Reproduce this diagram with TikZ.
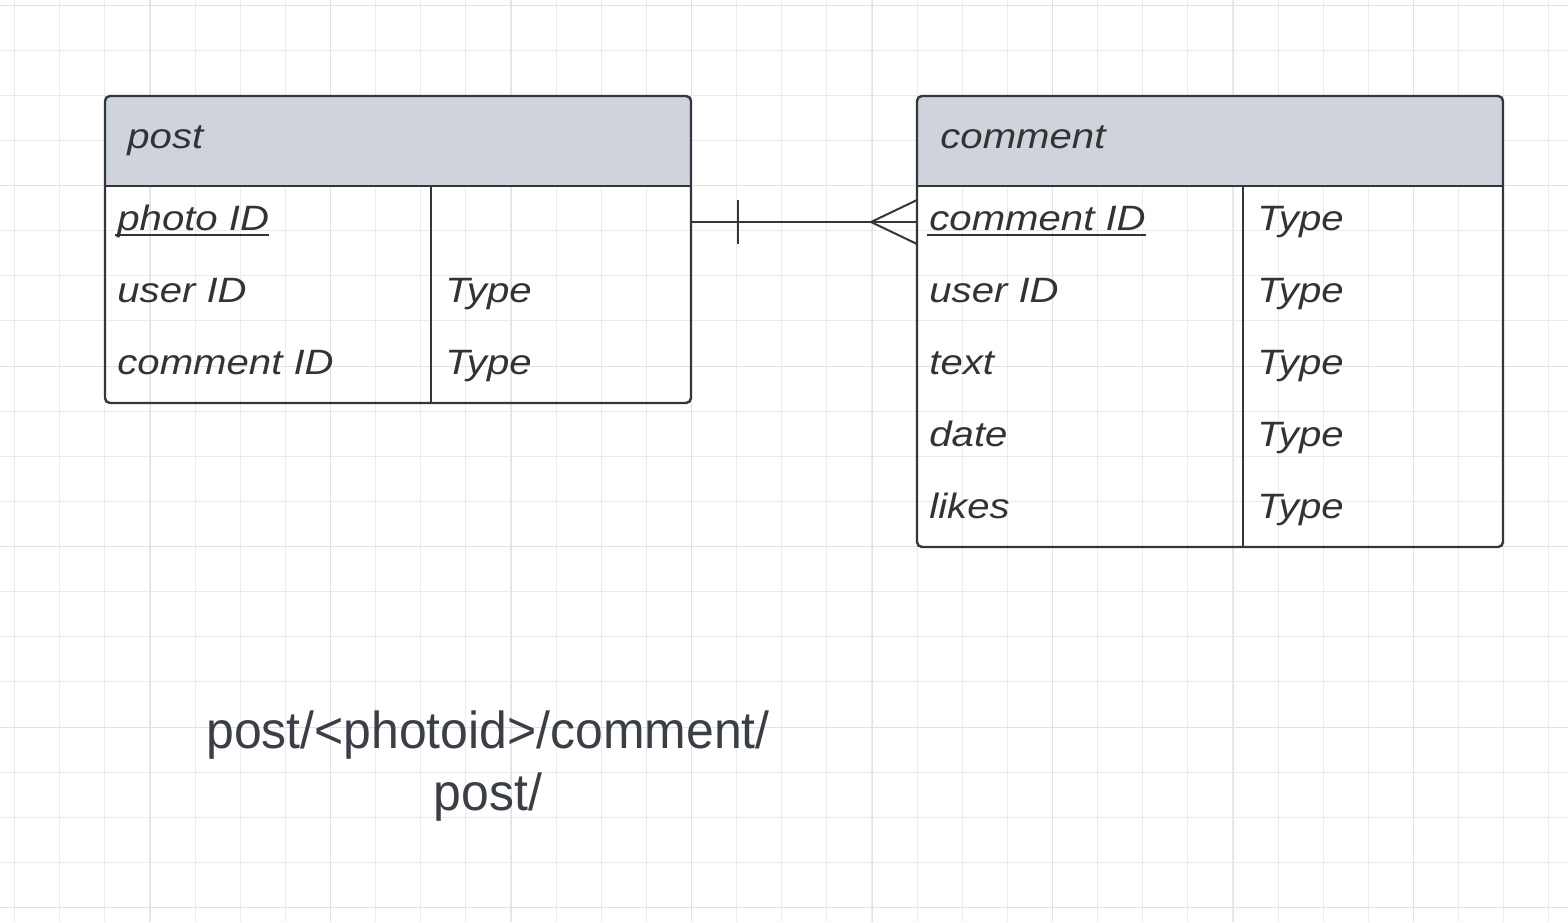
\documentclass[tikz,border=0pt]{standalone}
\usepackage{fontspec}
\newfontfamily\tablefont[FakeStretch=1.14]{Liberation Sans}
\newfontfamily\notefont[FakeStretch=0.96]{Liberation Sans}
\definecolor{gridminor}{HTML}{EBEBEB}
\definecolor{gridmajor}{HTML}{E2E2E2}
\definecolor{edge}{HTML}{33363D}
\definecolor{headfill}{HTML}{CFD4DC}
\definecolor{fieldtext}{HTML}{333333}
\definecolor{notetext}{HTML}{3A3E47}
\tikzset{
  entity/.style={draw=edge,line width=1.2pt,rounded corners=2.5pt},
  divider/.style={draw=edge,line width=1.2pt},
  relation/.style={draw=edge,line width=1pt},
  field/.style={anchor=base west,inner sep=0pt,text=fieldtext,font={\tablefont\itshape\fontsize{17.6}{20}\selectfont}},
  keyline/.style={draw=fieldtext,line width=1pt},
  note/.style={anchor=base,inner sep=0pt,align=center,text=notetext,font={\notefont\fontsize{26}{31}\selectfont}},
}

\begin{document}
\begin{tikzpicture}[x=0.5pt,y=-0.5pt]
\useasboundingbox (0,0) rectangle (1568,922);
\fill[white] (0,0) rectangle (1568,922);
% grid
\foreach \k in {0,...,34} \draw[gridminor,line width=0.5pt] ({14.6+45.125*\k},0) -- ++(0,922);
\foreach \k in {0,...,20} \draw[gridminor,line width=0.5pt] (0,{5+45.125*\k}) -- ++(1568,0);
\foreach \k in {0,...,7} \draw[gridmajor,line width=0.5pt] ({150+180.5*\k},0) -- ++(0,922);
\foreach \k in {0,...,5} \draw[gridmajor,line width=0.5pt] (0,{5+180.5*\k}) -- ++(1568,0);

% post table
\fill[headfill] (105,186) [rounded corners=2.5pt] -- (105,96) -- (691,96) [sharp corners] -- (691,186) -- cycle;
\draw[entity] (105,96) rectangle (691,403);
\draw[divider] (105,186) -- (691,186);
\draw[divider] (431,186) -- (431,403);
\node[field] (post-title) at (127,148) {post};
\node[field] (post-f1) at (117,230) {photo ID};
\draw[keyline] ([yshift=-2.5pt,xshift=-1pt]post-f1.base west) -- ([yshift=-2.5pt]post-f1.base east);
\node[field] (post-f2) at (117,302) {user ID};
\node[field] (post-f3) at (117,374) {comment ID};
\node[field] (post-t2) at (445,302) {Type};
\node[field] (post-t3) at (445,374) {Type};

% comment table
\fill[headfill] (917,186) [rounded corners=2.5pt] -- (917,96) -- (1503,96) [sharp corners] -- (1503,186) -- cycle;
\draw[entity] (917,96) rectangle (1503,547);
\draw[divider] (917,186) -- (1503,186);
\draw[divider] (1243,186) -- (1243,547);
\node[field] (comment-title) at (940,148) {comment};
\foreach \f [count=\i] in {comment ID,user ID,text,date,likes} {
  \node[field] (comment-f\i) at (929,{158+72*\i}) {\f};
  \node[field] (comment-t\i) at (1257,{158+72*\i}) {Type};
}
\draw[keyline] ([yshift=-2.5pt,xshift=-1pt]comment-f1.base west) -- ([yshift=-2.5pt]comment-f1.base east);

% relation: one post, many comments
\coordinate (post-pk) at (691,222);
\coordinate (comment-pk) at (917,222);
\draw[relation] (post-pk) -- (comment-pk);
\draw[relation] ([shift={(47,-22)}]post-pk) -- ([shift={(47,22)}]post-pk);
\draw[relation] ([shift={(0,-22)}]comment-pk) -- ([shift={(-46,0)}]comment-pk) -- ([shift={(0,22)}]comment-pk);

% route note
\node[note] (route) at (488,810) {post/<photoid>/comment/\\post/};
\end{tikzpicture}
\end{document}
